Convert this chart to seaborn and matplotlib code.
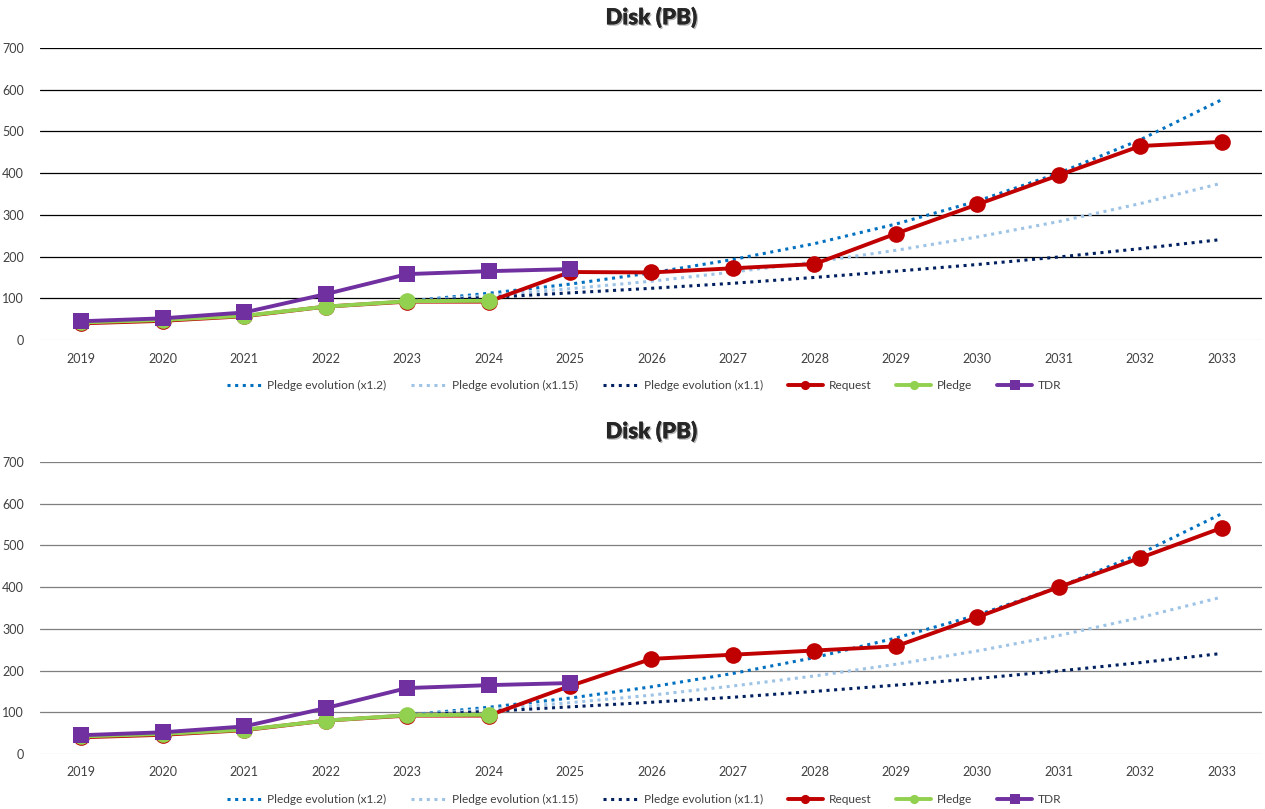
import numpy as np
import pandas as pd
import matplotlib
matplotlib.use('Agg')
import matplotlib.pyplot as plt
import matplotlib.patheffects as pe
import seaborn as sns

years = [str(y) for y in range(2019, 2034)]

# projections start from the 2023 pledge
evo_years = years[4:]
evo_12 = [93, 112, 134, 161, 193, 231, 278, 333, 400, 480, 576]
evo_115 = [93, 107, 123, 141, 163, 187, 215, 247, 284, 327, 376]
evo_11 = [93, 102, 113, 124, 136, 150, 165, 181, 199, 219, 241]

request_top = [40, 46, 57, 80, 92, 92, 163, 162, 172, 182, 255, 325, 395, 465, 475]
request_bottom = [40, 46, 57, 80, 92, 92, 163, 228, 238, 248, 258, 328, 400, 470, 542]

pledge_years = years[:6]
pledge = [42, 48, 58, 80, 93, 94]

tdr_years = years[:7]
tdr = [45, 52, 66, 110, 158, 165, 170]

sns.set_style('white')
plt.rcParams['font.family'] = ['Lato', 'DejaVu Sans']

fig = plt.figure(figsize=(12.65, 8.09), dpi=100)
ax_top = fig.add_axes([0.032, 0.5797, 0.966, 0.361])
ax_bot = fig.add_axes([0.032, 0.068, 0.966, 0.361])

pos = {y: i for i, y in enumerate(years)}


def draw(ax, request, grid_color):
    def xs(lbls):
        return [pos[y] for y in lbls]

    sns.lineplot(x=xs(evo_years), y=evo_12, ax=ax, color='#0070C0', lw=2.2,
                 linestyle=(0, (1, 1.5)), label='Pledge evolution (x1.2)')
    sns.lineplot(x=xs(evo_years), y=evo_115, ax=ax, color='#9DC3E6', lw=2.2,
                 linestyle=(0, (1, 1.5)), label='Pledge evolution (x1.15)')
    sns.lineplot(x=xs(evo_years), y=evo_11, ax=ax, color='#002060', lw=2.2,
                 linestyle=(0, (1, 1.5)), label='Pledge evolution (x1.1)')
    sns.lineplot(x=xs(years), y=request, ax=ax, color='#C00000', lw=2.8,
                 marker='o', markersize=12, markeredgewidth=0, label='Request')
    sns.lineplot(x=xs(pledge_years), y=pledge, ax=ax, color='#92D050', lw=2.8,
                 marker='o', markersize=12, markeredgewidth=0, label='Pledge')
    sns.lineplot(x=xs(tdr_years), y=tdr, ax=ax, color='#7030A0', lw=2.8,
                 marker='s', markersize=12, markeredgewidth=0, label='TDR')

    ax.set_xlim(-0.5, 14.5)
    ax.set_ylim(0, 700)
    ax.set_xticks(range(len(years)))
    ax.set_xticklabels(years)
    ax.set_yticks(range(0, 701, 100))
    ax.tick_params(axis='both', labelsize=9, colors='#404040', length=0, pad=9)
    ax.tick_params(axis='y', pad=12)
    for s in ax.spines.values():
        s.set_visible(False)
    for v in range(100, 701, 100):
        ax.axhline(v, color=grid_color, lw=0.9, zorder=0)
    ax.axhline(0, color='#D9D9D9', lw=0.9, zorder=0)
    ax.set_xlabel('')
    ax.set_ylabel('')
    t = ax.set_title('Disk (PB)', fontsize=16, fontweight='heavy', pad=17,
                     color='#262626')
    t.set_path_effects([pe.withSimplePatchShadow(offset=(1, -1), alpha=0.3),
                        pe.Normal()])
    ax.legend(loc='upper center', bbox_to_anchor=(0.494, -0.1), ncol=6,
              frameon=False, fontsize=8.6, handlelength=2.9, handletextpad=0.5,
              columnspacing=2.1, markerscale=0.55, labelcolor='#404040')


draw(ax_top, request_top, '#000000')
draw(ax_bot, request_bottom, '#7F7F7F')

fig.savefig('out.png', dpi=100)
